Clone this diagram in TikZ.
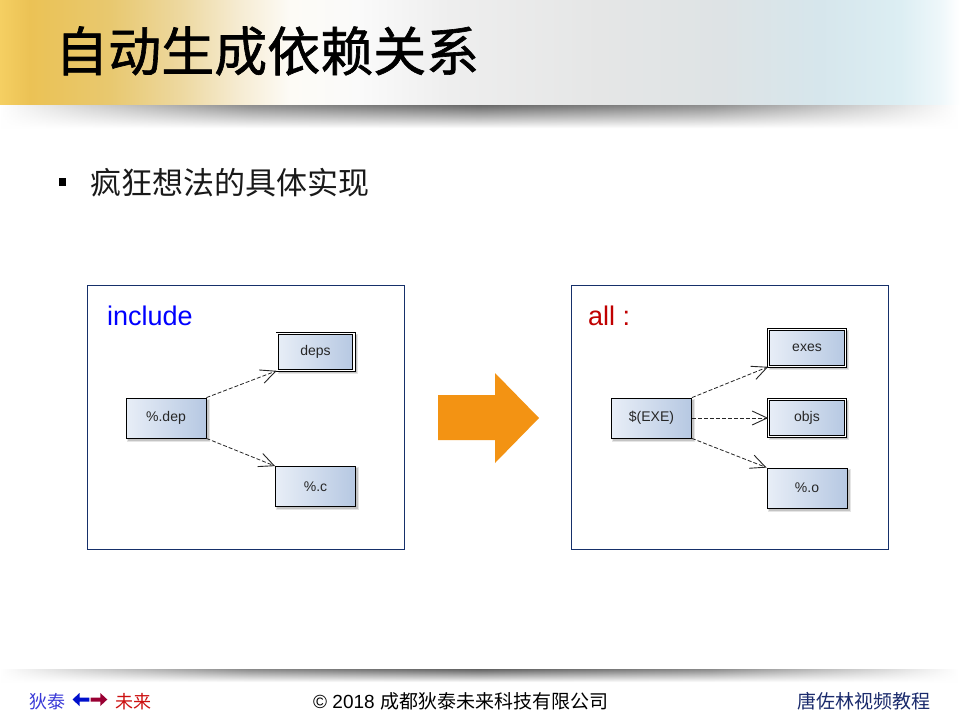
\documentclass[tikz,border=0pt]{standalone}
\usepackage{fontspec}
\setmainfont{Liberation Sans}
\newfontfamily\cjk{Noto Sans CJK SC}
\newfontfamily\cjkheavy{Noto Sans CJK SC}[FakeBold=1.2]
\usetikzlibrary{arrows.meta,fadings,backgrounds}

% title bar colours, left to right
\definecolor{tbA}{HTML}{F5CF62}
\definecolor{tbB}{HTML}{EBC255}
\definecolor{tbC}{HTML}{E8C86F}
\definecolor{tbD}{HTML}{EDD89F}
\definecolor{tbE}{HTML}{F6ECD3}
\definecolor{tbF}{HTML}{FDFBF6}
\definecolor{tbG}{HTML}{FAFAFA}
\definecolor{tbH}{HTML}{EEEEEE}
\definecolor{tbI}{HTML}{E5E6E6}
\definecolor{tbJ}{HTML}{DEE3E5}
\definecolor{tbK}{HTML}{D6E6EC}
\definecolor{tbL}{HTML}{DCEEF3}
\definecolor{tbM}{HTML}{EEF7FA}
% shadow greys
\definecolor{shA}{HTML}{D8D8D8}
\definecolor{shB}{HTML}{8A8A8A}
\definecolor{shC}{HTML}{626262}
% other colours
\definecolor{navy}{HTML}{16306A}
\definecolor{nodeA}{HTML}{E8EEF7}
\definecolor{nodeB}{HTML}{B6C8E2}
\definecolor{orangeArrow}{HTML}{F39313}
\definecolor{darkred}{HTML}{C00000}
\definecolor{footblue}{HTML}{3A3AD8}
\definecolor{footred}{HTML}{CC1010}
\definecolor{arrblue}{HTML}{0010CC}
\definecolor{arrred}{HTML}{990033}
\definecolor{footnavy}{HTML}{1A2A6C}

% the picture spans x in [0,960]; shading stops map 0..960 onto 25bp..75bp
\pgfdeclarehorizontalshading{titlebar}{100bp}{%
  color(0bp)=(tbA); color(25bp)=(tbA); color(26.56bp)=(tbB);
  color(30.73bp)=(tbC); color(34.38bp)=(tbD); color(37.5bp)=(tbE);
  color(40.1bp)=(tbF); color(43.75bp)=(tbG); color(48.44bp)=(tbH);
  color(56.25bp)=(tbI); color(62.5bp)=(tbJ); color(67.71bp)=(tbK);
  color(71.88bp)=(tbL); color(73.96bp)=(tbM); color(75bp)=(white);
  color(100bp)=(white)}
\pgfdeclarehorizontalshading{barshadow}{100bp}{%
  color(0bp)=(white); color(25bp)=(white); color(29bp)=(shA);
  color(38bp)=(shB); color(50bp)=(shC); color(62bp)=(shB);
  color(71bp)=(shA); color(75bp)=(white); color(100bp)=(white)}

% soft shadow cast down and to the right of a box node
\newcommand\castshadow[1]{%
  \fill[black, opacity=0.10] ([xshift=1pt,yshift=-1pt]#1.north west)
    rectangle ([xshift=3.5pt,yshift=-3.5pt]#1.south east);
  \fill[black, opacity=0.14] ([xshift=2pt,yshift=-2pt]#1.north west)
    rectangle ([xshift=2.5pt,yshift=-2.5pt]#1.south east);}

\tikzset{
  item/.style={draw=black, line width=0.8pt, left color=nodeA, right color=nodeB,
    minimum width=80pt, minimum height=40pt, inner sep=0pt,
    font=\fontsize{14}{14}\selectfont, text=black!85},
  dblitem/.style={item, double=white, double distance=1.6pt,
    minimum width=76.8pt, minimum height=36.8pt},
  frame/.style={draw=navy, line width=0.9pt, minimum width=317pt, minimum height=264pt, inner sep=0pt},
  deparrow/.style={line width=0.8pt, draw=black!85, dash pattern=on 4pt off 2pt,
    -{Straight Barb[length=15pt, width=14pt, line width=0.9pt]}},
  tag/.style={font=\fontsize{27}{27}\selectfont, inner sep=0pt, anchor=base west},
}

\begin{document}
\begin{tikzpicture}[x=1pt, y=-1pt]
\useasboundingbox (0,0) rectangle (960,720);
\begin{scope}[on background layer]
  \fill[white] (0,0) rectangle (960,720);
\end{scope}

% title bar and its shadow
\shade[shading=barshadow, path fading=south] (0,104) rectangle (960,128);
\shade[shading=titlebar] (0,0) rectangle (960,104);
\node[anchor=base west, inner sep=0pt, text=black] (title) at (55,71)
  {\cjkheavy\fontsize{53}{53}\selectfont 自动生成依赖关系};

% bullet line
\fill[black] (59,178) rectangle (66,186);
\node[anchor=base west, inner sep=0pt, text=black!90] (bullet) at (90,194)
  {\cjk\fontsize{31}{31}\selectfont 疯狂想法的具体实现};

% left panel
\node[frame] (lbox) at (245.5,417) {};
\node[tag, text=blue] (inc) at (107,325) {include};
\node[item] (dep) at (166,418) {\%.dep};
\node[dblitem] (deps) at (315.5,352) {deps};
\node[item] (pc) at (315.5,486.5) {\%.c};
\draw[deparrow] (dep.north east) -- (deps.south west);
\draw[deparrow] (dep.south east) -- (pc.north west);

% right panel
\node[frame] (rbox) at (729.5,417) {};
\node[tag, text=darkred] (all) at (588,325) {all :};
\node[item] (exe) at (651.5,418) {\$(EXE)};
\node[dblitem] (exes) at (807,348) {exes};
\node[dblitem] (objs) at (807,418) {objs};
\node[item] (po) at (807,488) {\%.o};
\draw[deparrow] (exe.north east) -- (exes.south west);
\draw[deparrow] (exe.east) -- (objs.west);
\draw[deparrow] (exe.south east) -- (po.north west);

% shadows under the boxes
\begin{scope}[on background layer]
  \castshadow{dep}\castshadow{deps}\castshadow{pc}
  \castshadow{exe}\castshadow{exes}\castshadow{objs}\castshadow{po}
\end{scope}

% big transition arrow
\fill[orangeArrow] (438,395) -- (495,395) -- (495,373) -- (539,418)
  -- (495,463) -- (495,440) -- (438,440) -- cycle;

% footer rule
\shade[shading=barshadow, path fading=south] (0,669) rectangle (960,682);

% footer texts
\node[anchor=base west, inner sep=0pt, text=footblue] (fl) at (29,708)
  {\cjk\fontsize{18}{18}\selectfont 狄泰};
\fill[arrblue] (72.5,699.5) -- (79.5,693) -- (79.5,697.5) -- (89.3,697.5)
  -- (89.3,701.5) -- (79.5,701.5) -- (79.5,706) -- cycle;
\fill[arrred] (107.3,699.5) -- (100.3,693) -- (100.3,697.5) -- (90.7,697.5)
  -- (90.7,701.5) -- (100.3,701.5) -- (100.3,706) -- cycle;
\node[anchor=base west, inner sep=0pt, text=footred] (fr) at (115.5,708)
  {\cjk\fontsize{18}{18}\selectfont 未来};
\node[anchor=base west, inner sep=0pt, text=black] (copy) at (313,708)
  {\fontsize{19}{19}\selectfont \textcopyright\ 2018 {\cjk 成都狄泰未来科技有限公司}};
\node[anchor=base east, inner sep=0pt, text=footnavy] (course) at (931,708)
  {\cjk\fontsize{19}{19}\selectfont 唐佐林视频教程};
\end{tikzpicture}
\end{document}
